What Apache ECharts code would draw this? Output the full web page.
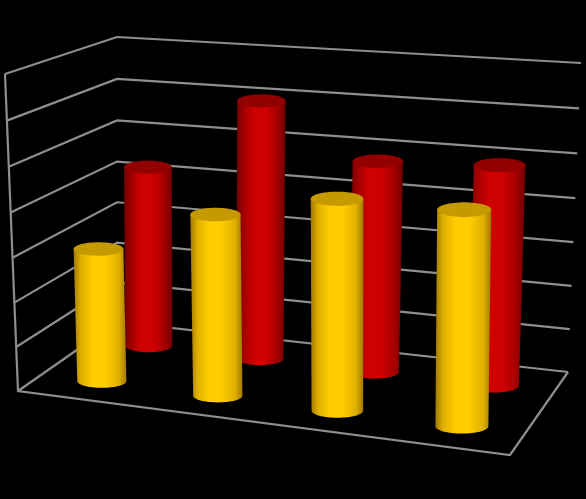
<!DOCTYPE html>
<html><head><meta charset="utf-8">
<style>html,body{margin:0;padding:0;background:#000}#c{width:586px;height:499px}</style>
<script src="https://cdn.jsdelivr.net/npm/echarts@6/dist/echarts.min.js"></script>
</head><body><div id="c"></div>
<script>
const categories = ['A', 'B', 'C', 'D'];
const backValues = [4.28, 6, 4.83, 4.95];
const frontValues = [3.02, 4.03, 4.6, 4.6];
const gridTicks = [0, 1, 2, 3, 4, 5, 6, 7];

// Box corners on the page: [depth front/back][floor/top][left/right]
const box = {
  fbl: [18, 391], fbr: [510, 455], bbl: [117, 322], bbr: [568, 372],
  ftl: [5, 74], ftr: [513, 108], btl: [117, 37], btr: [581, 63]
};
const kV = 1.035;
function warpU(t) { return t - 0.16 * t * t * (1 - t) * (1.2 - t); }
function warpV(t) { return t / (t + kV * (1 - t)); }
function mix(a, b, t) { return [a[0] + (b[0] - a[0]) * t, a[1] + (b[1] - a[1]) * t]; }
function project(u0, w, v0) {
  const u = warpU(u0), v = warpV(v0);
  const bot = mix(mix(box.fbl, box.fbr, u), mix(box.bbl, box.bbr, u), w);
  const top = mix(mix(box.ftl, box.ftr, u), mix(box.btl, box.btr, u), w);
  return mix(bot, top, v);
}
function norm(api, params, cat, val) {
  const p = api.coord([cat, val]), cs = params.coordSys;
  return [(p[0] - cs.x) / cs.width, 1 - (p[1] - cs.y) / cs.height];
}
const lineStyle = { stroke: '#8e8e8e', lineWidth: 2.2, fill: null, lineJoin: 'miter' };

function renderWall(params, api) {
  const n = norm(api, params, 0, api.value(1));
  const v = n[1];
  const pts = [project(0, 0, v), project(0, 1, v), project(1, 1, v)];
  const children = [{ type: 'polyline', shape: { points: pts }, style: lineStyle }];
  if (params.dataIndex === 0) {
    children.push({ type: 'polyline', shape: { points: [project(0, 0, 1), project(0, 0, 0), project(1, 0, 0), project(1, 1, 0)] }, style: lineStyle });
  }
  return { type: 'group', children };
}

function grad(edge, low, mid) {
  return { type: 'linear', x: 0, y: 0, x2: 1, y2: 0, colorStops: [
    { offset: 0, color: edge }, { offset: 0.14, color: low }, { offset: 0.36, color: mid },
    { offset: 0.6, color: mid }, { offset: 0.86, color: low }, { offset: 1, color: edge }
  ] };
}
function cylinder(depth, edge, low, mid, cap) {
  const R = 0.0527, RY = 0.27;
  return function (params, api) {
    const n = norm(api, params, api.value(0), api.value(1));
    const u = n[0], v = n[1];
    const b = project(u, depth, 0), t = project(u, depth, v);
    const bl = project(u - R, depth, 0), br = project(u + R, depth, 0);
    const tl = project(u - R, depth, v), tr = project(u + R, depth, v);
    const rb = (br[0] - bl[0]) / 2, rt = (tr[0] - tl[0]) / 2;
    const body = [[t[0] - rt, t[1]], [t[0] + rt, t[1]]];
    const K = 32;
    for (let i = 0; i <= K; i++) {
      const a = Math.PI * i / K;
      body.push([b[0] + rb * Math.cos(a), b[1] + rb * RY * Math.sin(a)]);
    }
    const top = [];
    for (let i = 0; i < 2 * K; i++) {
      const a = Math.PI * i / K;
      top.push([t[0] + rt * Math.cos(a), t[1] + rt * RY * Math.sin(a)]);
    }
    return { type: 'group', children: [
      { type: 'polygon', shape: { points: body }, style: { fill: grad(edge, low, mid) } },
      { type: 'polygon', shape: { points: top }, style: { fill: cap } }
    ] };
  };
}

const chart = echarts.init(document.getElementById('c'), null, { renderer: 'canvas' });
chart.setOption({
  backgroundColor: '#000',
  animation: false,
  grid: { left: 0, right: 0, top: 0, bottom: 0 },
  xAxis: { type: 'category', data: categories, show: false },
  yAxis: { type: 'value', min: 0, max: 7, interval: 1, show: false },
  series: [
    { type: 'custom', name: 'Grid', coordinateSystem: 'cartesian2d', clip: false, silent: true,
      data: gridTicks.map(t => [0, t]), encode: { x: 0, y: 1 }, renderItem: renderWall },
    { type: 'custom', name: 'Back', coordinateSystem: 'cartesian2d', clip: false,
      data: backValues.map((v, i) => [i, v]), encode: { x: 0, y: 1 },
      renderItem: cylinder(0.75, '#6a0000', '#a00000', '#cf0000', '#930000') },
    { type: 'custom', name: 'Front', coordinateSystem: 'cartesian2d', clip: false,
      data: frontValues.map((v, i) => [i, v]), encode: { x: 0, y: 1 },
      renderItem: cylinder(0.25, '#a07800', '#e0b000', '#ffcc00', '#c49a00') }
  ]
});
</script></body></html>
